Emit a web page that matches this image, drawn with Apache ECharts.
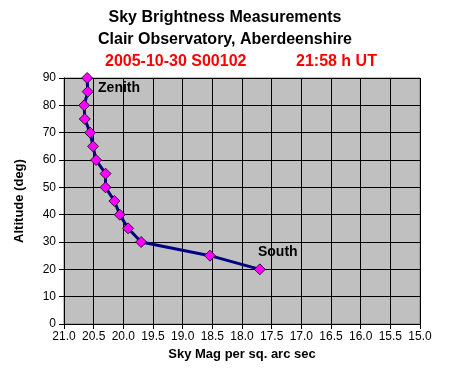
<!DOCTYPE html>
<html>
<head>
<meta charset="utf-8">
<script src="https://cdn.jsdelivr.net/npm/echarts@6/dist/echarts.min.js"></script>
<style>html,body{margin:0;padding:0;background:#fff}#c{width:450px;height:374px}</style>
</head>
<body>
<div id="c"></div>
<script>
const altitudes = [90, 85, 80, 75, 70, 65, 60, 55, 50, 45, 40, 35, 30, 25, 20];
const skyMag = [20.61, 20.60, 20.66, 20.65, 20.56, 20.51, 20.46, 20.30, 20.30, 20.15, 20.06, 19.92, 19.70, 18.54, 17.70];
const pointLabels = {90: 'Zenith', 20: 'South'};
const titleLines = ['Sky Brightness Measurements', 'Clair Observatory, Aberdeenshire'];
const subLeft = '2005-10-30 S00102';
const subRight = '21:58 h UT';
const xName = 'Sky Mag per sq. arc sec';
const yName = 'Altitude (deg)';

const font = 'Arial, "Liberation Sans", sans-serif';
const data = altitudes.map((a, i) => {
  const item = {value: [skyMag[i], a]};
  if (pointLabels[a]) {
    item.label = {
      show: true, formatter: pointLabels[a], fontFamily: font, fontWeight: 'bold',
      fontSize: 14, color: '#000',
      position: a === 90 ? 'right' : 'top',
      offset: a === 90 ? [0, 10] : [18, 1]
    };
  }
  return item;
});

const chart = echarts.init(document.getElementById('c'), null, {renderer: 'canvas'});
chart.setOption({
  animation: false,
  title: [
    {text: titleLines[0], left: 'center', top: 10, textStyle: {fontFamily: font, fontWeight: 'bold', fontSize: 16, color: '#000'}, padding: 0},
    {text: titleLines[1], left: 'center', top: 32, textStyle: {fontFamily: font, fontWeight: 'bold', fontSize: 16, color: '#000'}, padding: 0},
    {text: subLeft, left: 105, top: 54, textStyle: {fontFamily: font, fontWeight: 'bold', fontSize: 16, color: '#ff0000'}, padding: 0},
    {text: subRight, left: 296, top: 54, textStyle: {fontFamily: font, fontWeight: 'bold', fontSize: 16, color: '#ff0000'}, padding: 0}
  ],
  grid: {left: 64, right: 30, top: 78, bottom: 50, show: true, backgroundColor: '#c0c0c0', borderColor: '#808080', borderWidth: 1},
  xAxis: {
    type: 'value', inverse: true, min: 15, max: 21, interval: 0.5,
    name: xName, nameLocation: 'middle', nameGap: 23,
    nameTextStyle: {fontFamily: font, fontWeight: 'bold', fontSize: 13, color: '#000'},
    axisLine: {show: true, lineStyle: {color: '#000', width: 1}},
    axisTick: {show: true, length: 5, lineStyle: {color: '#000'}},
    axisLabel: {fontFamily: font, fontSize: 12, color: '#000', margin: 7, formatter: v => v.toFixed(1)},
    splitLine: {show: true, lineStyle: {color: '#000', width: 1}}
  },
  yAxis: {
    type: 'value', min: 0, max: 90, interval: 10,
    name: yName, nameLocation: 'middle', nameGap: 38,
    nameTextStyle: {fontFamily: font, fontWeight: 'bold', fontSize: 13, color: '#000'},
    axisLine: {show: true, lineStyle: {color: '#000', width: 1}},
    axisTick: {show: true, length: 5, lineStyle: {color: '#000'}},
    axisLabel: {fontFamily: font, fontSize: 12, color: '#000', margin: 8},
    splitLine: {show: true, lineStyle: {color: '#000', width: 1}}
  },
  series: [{
    type: 'line', data: data,
    lineStyle: {color: '#000080', width: 3},
    symbol: 'diamond', symbolSize: 11,
    itemStyle: {color: '#ff00ff', borderColor: '#000', borderWidth: 0.8}
  }]
});
</script>
</body>
</html>
